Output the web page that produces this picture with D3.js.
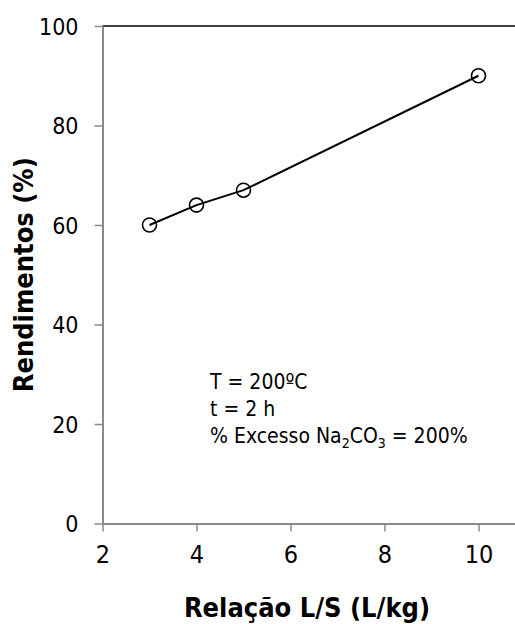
<!DOCTYPE html>
<html>
<head>
<meta charset="utf-8">
<script src="https://cdn.jsdelivr.net/npm/d3@7"></script>
<style>
  body { margin: 0; background: #fff; }
  text { font-family: "DejaVu Sans Condensed", "DejaVu Sans", sans-serif; fill: #000; }
</style>
</head>
<body>
<div class="canvas"></div>
<script>
// dados
const razaoLS = [3, 4, 5, 10];
const rendimentos = [60, 64, 67, 90];
const xTicks = [2, 4, 6, 8, 10];
const yTicks = [0, 20, 40, 60, 80, 100];
const notas = ['T = 200ºC', 't = 2 h'];

const dims = { width: 515, height: 624 };
const area = { left: 102.5, top: 26, bottom: 523.5, right: 515 };

const svg = d3.select('.canvas')
  .append('svg')
  .attr('width', dims.width)
  .attr('height', dims.height);

// escalas
const x = d3.scaleLinear()
  .domain([2, 10])
  .range([area.left, 478.5]);
x.domain([2, x.invert(area.right)]).range([area.left, area.right]);

const y = d3.scaleLinear()
  .domain([0, 100])
  .range([area.bottom, area.top]);

// linha superior do grafico
svg.append('line')
  .attr('x1', area.left).attr('x2', area.right)
  .attr('y1', y(100)).attr('y2', y(100))
  .attr('stroke', '#404040')
  .attr('stroke-width', 2);

// eixos
const xAxis = d3.axisBottom(x)
  .tickValues(xTicks)
  .tickSize(8)
  .tickSizeOuter(0)
  .tickPadding(14);

const yAxis = d3.axisLeft(y)
  .tickValues(yTicks)
  .tickSize(8)
  .tickSizeOuter(0)
  .tickPadding(16);

const gx = svg.append('g')
  .attr('transform', `translate(0, ${area.bottom})`)
  .call(xAxis);

const gy = svg.append('g')
  .attr('transform', `translate(${area.left}, 0)`)
  .call(yAxis);

[gx, gy].forEach(g => {
  g.select('.domain').attr('stroke', '#8a8a8a').attr('stroke-width', 2);
  g.selectAll('.tick line').attr('stroke', '#8a8a8a').attr('stroke-width', 1.5);
  g.selectAll('.tick text')
    .attr('fill', '#000')
    .style('font-family', '"DejaVu Sans Condensed", "DejaVu Sans", sans-serif');
});
gx.selectAll('.tick text').style('font-size', '25px');
gy.selectAll('.tick text').style('font-size', '23px').attr('dy', '0.36em');

// titulos dos eixos
svg.append('text')
  .attr('x', 307)
  .attr('y', 617)
  .attr('text-anchor', 'middle')
  .style('font-size', '27px')
  .style('font-weight', 'bold')
  .text('Relação L/S (L/kg)');

svg.append('text')
  .attr('transform', `translate(33, ${(area.top + area.bottom) / 2}) rotate(-90)`)
  .attr('text-anchor', 'middle')
  .style('font-size', '27px')
  .style('font-weight', 'bold')
  .text('Rendimentos (%)');

// linha e marcadores
const pontos = razaoLS.map((v, i) => ({ x: v, y: rendimentos[i] }));

const linha = d3.line()
  .x(d => x(d.x))
  .y(d => y(d.y));

svg.append('path')
  .datum(pontos)
  .attr('d', linha)
  .attr('fill', 'none')
  .attr('stroke', '#000')
  .attr('stroke-width', 2);

svg.selectAll('circle')
  .data(pontos)
  .enter()
  .append('circle')
    .attr('cx', d => x(d.x))
    .attr('cy', d => y(d.y))
    .attr('r', 7)
    .attr('fill', 'none')
    .attr('stroke', '#000')
    .attr('stroke-width', 1.6);

// notas
const notaG = svg.append('g').style('font-size', '21px');
notas.forEach((t, i) => {
  notaG.append('text')
    .attr('x', 210)
    .attr('y', 389 + i * 27)
    .text(t);
});

const ultima = notaG.append('text')
  .attr('x', 210)
  .attr('y', 443);
ultima.append('tspan').text('% Excesso Na');
ultima.append('tspan').attr('dy', 5).style('font-size', '14px').text('2');
ultima.append('tspan').attr('dy', -5).text('CO');
ultima.append('tspan').attr('dy', 5).style('font-size', '14px').text('3');
ultima.append('tspan').attr('dy', -5).text(' = 200%');
</script>
</body>
</html>
